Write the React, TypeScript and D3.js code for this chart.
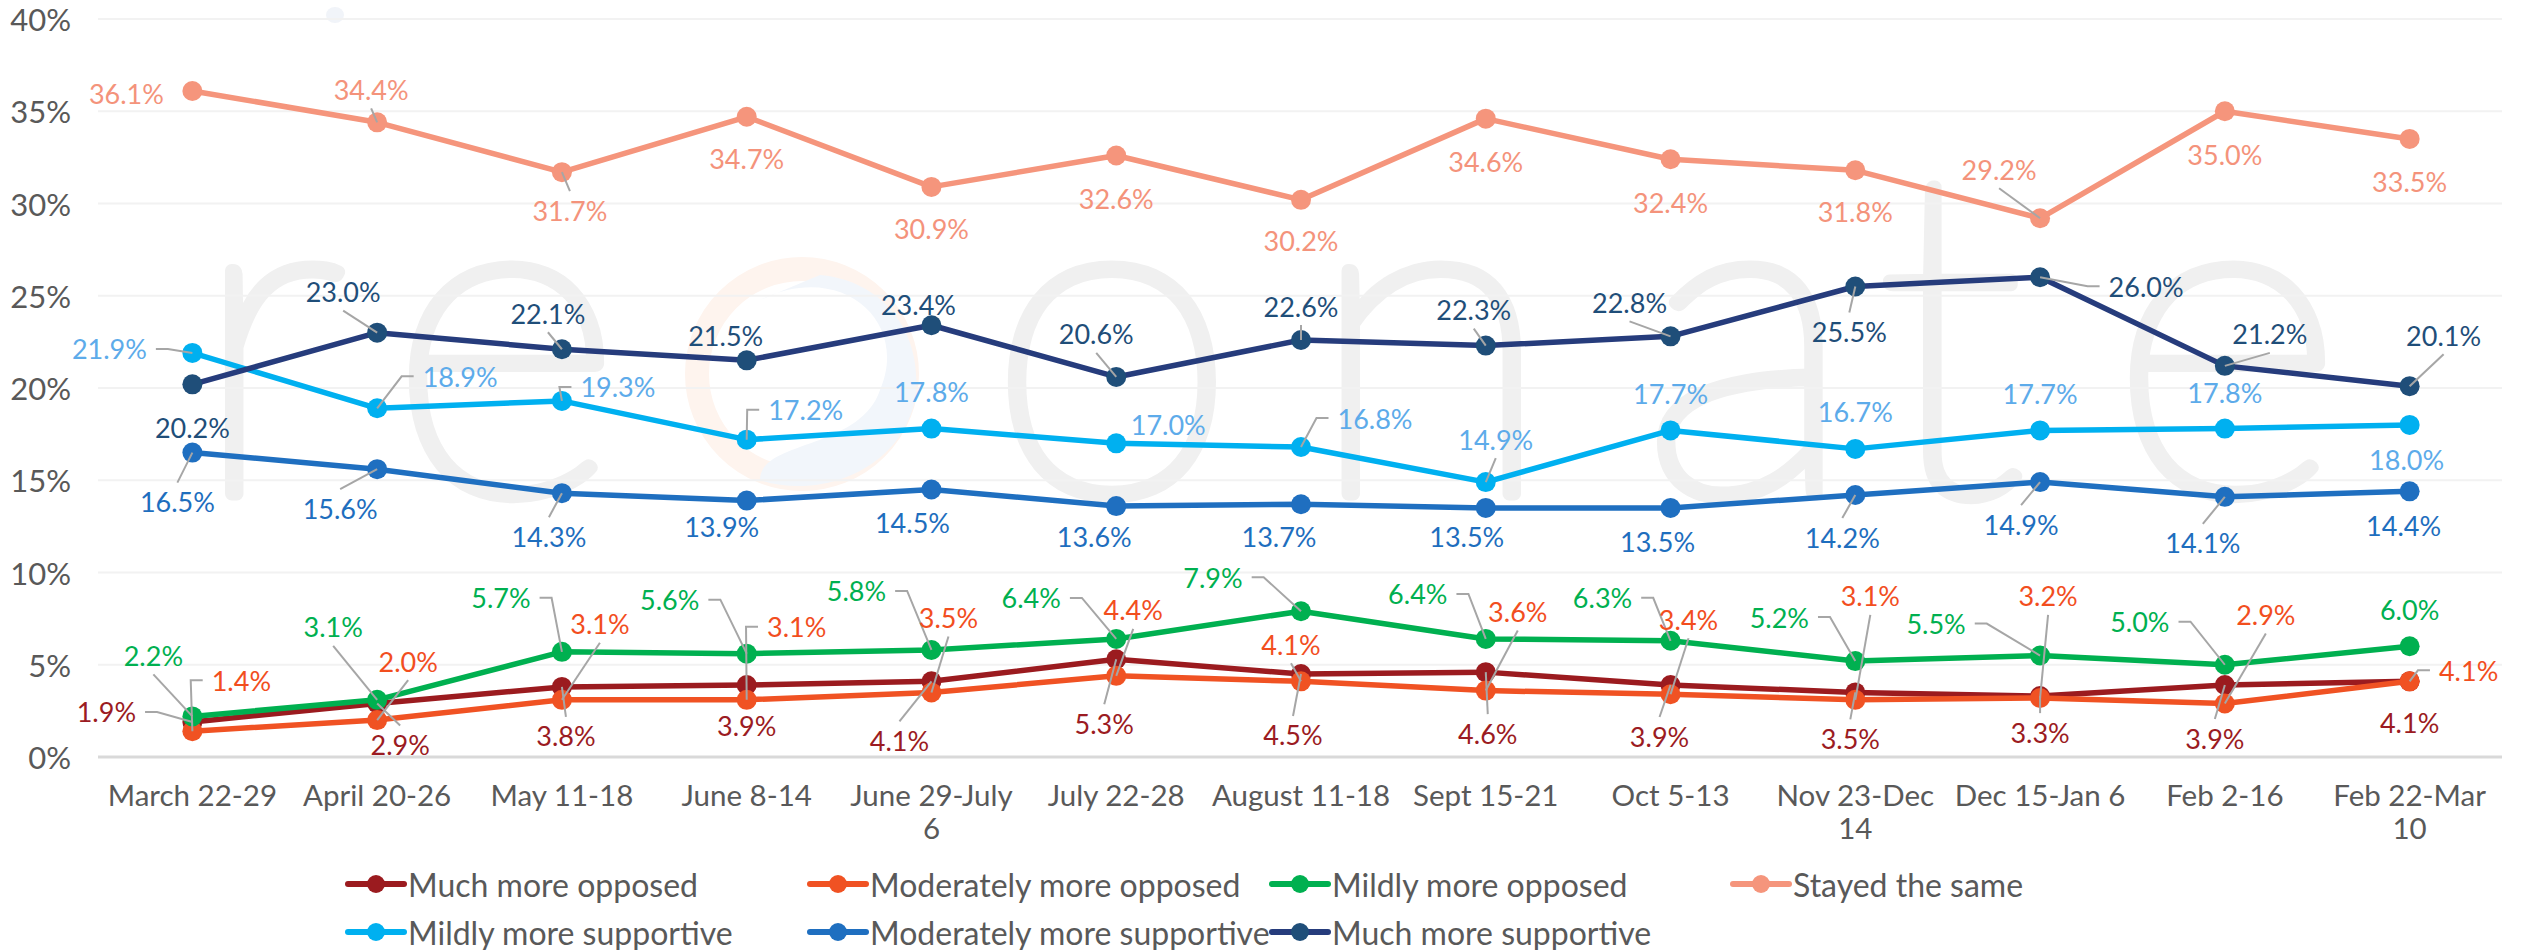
import React, { useEffect } from "react";
import * as d3 from "d3";

const categories = [
  "March 22-29", "April 20-26", "May 11-18", "June 8-14", "June 29-July 6", "July 22-28",
  "August 11-18", "Sept 15-21", "Oct 5-13", "Nov 23-Dec 14", "Dec 15-Jan 6", "Feb 2-16", "Feb 22-Mar 10",
];
const muchMoreOpposed = [1.9, 2.9, 3.8, 3.9, 4.1, 5.3, 4.5, 4.6, 3.9, 3.5, 3.3, 3.9, 4.1];
const moderatelyMoreOpposed = [1.4, 2.0, 3.1, 3.1, 3.5, 4.4, 4.1, 3.6, 3.4, 3.1, 3.2, 2.9, 4.1];
const mildlyMoreOpposed = [2.2, 3.1, 5.7, 5.6, 5.8, 6.4, 7.9, 6.4, 6.3, 5.2, 5.5, 5.0, 6.0];
const stayedTheSame = [36.1, 34.4, 31.7, 34.7, 30.9, 32.6, 30.2, 34.6, 32.4, 31.8, 29.2, 35.0, 33.5];
const mildlyMoreSupportive = [21.9, 18.9, 19.3, 17.2, 17.8, 17.0, 16.8, 14.9, 17.7, 16.7, 17.7, 17.8, 18.0];
const moderatelyMoreSupportive = [16.5, 15.6, 14.3, 13.9, 14.5, 13.6, 13.7, 13.5, 13.5, 14.2, 14.9, 14.1, 14.4];
const muchMoreSupportive = [20.2, 23.0, 22.1, 21.5, 23.4, 20.6, 22.6, 22.3, 22.8, 25.5, 26.0, 21.2, 20.1];
const seriesNames = [
  "Much more opposed", "Moderately more opposed", "Mildly more opposed", "Stayed the same",
  "Mildly more supportive", "Moderately more supportive", "Much more supportive",
];
const yTicks = [0, 5, 10, 15, 20, 25, 30, 35, 40];

// ---- styles / layout (not data) ----
const seriesValues = [
  muchMoreOpposed, moderatelyMoreOpposed, mildlyMoreOpposed, stayedTheSame,
  mildlyMoreSupportive, moderatelyMoreSupportive, muchMoreSupportive,
];
const lineColors = ["#9B1B1F", "#F05223", "#00B050", "#F5957C", "#00B0F0", "#1F6FC0", "#263C7C"];
const markerColors = ["#9B1B1F", "#F05223", "#00B050", "#F5957C", "#00B0F0", "#1F6FC0", "#1F4E79"];
const labelColors = ["#9B1B22", "#F24E1E", "#00B050", "#F4937B", "#5DABEA", "#1E6EBE", "#1F4E79"];

// label offsets [dx, dy, leader] ; leader 0 none, 1 top/bottom, 2 side
const labelLayout: number[][][] = [
  [[-86, -10, 2], [23, 41, 1], [4, 49, 1], [0, 40, 0], [-32, 59, 1], [-12, 64, 1], [-8, 61, 1], [2, 61, 1], [-11, 51, 1], [-5, 46, 1], [0, 36, 1], [-10, 53, 1], [0, 41, 0]],
  [[49, -51, 2], [31, -59, 1], [38, -76, 1], [50, -73, 2], [17, -75, 1], [17, -66, 1], [-10, -37, 1], [32, -79, 1], [18, -75, 1], [15, -104, 1], [8, -102, 1], [41, -89, 1], [59, -11, 2]],
  [[-39, -61, 1], [-44, -73, 1], [-61, -54, 2], [-77, -54, 2], [-75, -59, 2], [-85, -41, 2], [-88, -34, 2], [-68, -45, 2], [-68, -43, 2], [-76, -44, 2], [-104, -32, 2], [-85, -43, 2], [0, -37, 0]],
  [[-66, 3, 0], [-6, -33, 1], [8, 38, 1], [0, 42, 0], [0, 42, 0], [0, 43, 0], [0, 41, 0], [0, 43, 0], [0, 43, 0], [0, 41, 0], [-41, -49, 1], [0, 43, 0], [0, 43, 0]],
  [[-83, -4, 2], [83, -32, 2], [56, -14, 2], [59, -30, 2], [0, -37, 0], [52, -19, 0], [74, -29, 2], [10, -43, 1], [0, -37, 0], [0, -37, 0], [0, -37, 0], [0, -36, 0], [-3, 35, 0]],
  [[-15, 49, 1], [-37, 39, 1], [-13, 43, 1], [-25, 26, 0], [-19, 33, 0], [-22, 30, 0], [-22, 32, 0], [-19, 29, 0], [-13, 34, 0], [-13, 42, 1], [-19, 42, 1], [-22, 46, 1], [-6, 34, 0]],
  [[0, 43, 0], [-34, -41, 1], [-14, -36, 1], [-21, -25, 0], [-13, -21, 0], [-20, -43, 1], [0, -34, 1], [-12, -36, 1], [-41, -34, 1], [-6, 45, 1], [106, 9, 2], [45, -32, 1], [34, -51, 1]],
];

const W = 2532;
const H = 950;
const FONT = "Lato, 'Open Sans', sans-serif";
const LABEL_SIZE = 27;

let measureCtx: CanvasRenderingContext2D | null = null;
function textWidth(s: string, size: number): number {
  if (!measureCtx) measureCtx = document.createElement("canvas").getContext("2d");
  if (!measureCtx) return s.length * size * 0.55;
  measureCtx.font = `${size}px Lato`;
  return measureCtx.measureText(s).width;
}

function wrapLabel(s: string): string[] {
  if (s.length <= 12) return [s];
  const k = s.lastIndexOf(" ");
  return [s.slice(0, k), s.slice(k + 1)];
}

export default function App() {
  useEffect(() => {
    document.body.style.margin = "0";
  }, []);

  const x = d3.scalePoint<string>().domain(categories).range([100, 2502]).padding(0.5);
  const y = d3.scaleLinear().domain([0, 40]).range([757, 19]);
  const px = (i: number) => x(categories[i]) as number;

  const line = d3
    .line<number>()
    .x((_, i) => px(i))
    .y((d) => y(d));

  const fmt = (v: number) => `${v.toFixed(1)}%`;

  const leaders: JSX.Element[] = [];
  const labels: JSX.Element[] = [];
  seriesValues.forEach((vals, s) => {
    vals.forEach((v, i) => {
      const [dx, dy, lt] = labelLayout[s][i];
      const ptx = px(i);
      const pty = y(v);
      const cx = ptx + dx;
      const cy = pty + dy;
      const txt = fmt(v);
      labels.push(
        <text key={`l${s}-${i}`} x={cx} y={cy} textAnchor="middle" dominantBaseline="central"
          fontSize={LABEL_SIZE} fontFamily={FONT} fill={labelColors[s]}>{txt}</text>
      );
      if (lt === 1) {
        const sy = dy < 0 ? cy + 19 : cy - 19;
        leaders.push(<path key={`d${s}-${i}`} d={`M${cx},${sy}L${ptx},${pty}`} stroke="#A6A6A6" strokeWidth={2} fill="none" />);
      } else if (lt === 2) {
        const hw = textWidth(txt, LABEL_SIZE) / 2;
        const dir = dx < 0 ? 1 : -1;
        const sx = cx + dir * (hw + 9);
        const ex = sx + dir * 12;
        leaders.push(<path key={`d${s}-${i}`} d={`M${sx},${cy}L${ex},${cy}L${ptx},${pty}`} stroke="#A6A6A6" strokeWidth={2} fill="none" />);
      }
    });
  });

  const legendCols = [348, 810, 1272, 1733];
  const legendRows = [884, 932];

  const wm = "#F0F0F0";
  const wmLetters: [string, number][] = [["r", 268], ["e", 505], ["o", 1112], ["n", 1430], ["a", 1748], ["t", 1950], ["e", 2226]];

  return (
    <svg width={W} height={H} viewBox={`0 0 ${W} ${H}`} style={{ position: "absolute", left: 0, top: 0, background: "#fff" }}>
      <rect x={0} y={0} width={W} height={H} fill="#fff" />
      {/* watermark */}
      <g>
        <ellipse cx={335} cy={15} rx={9} ry={8} fill="#F1F4F9" />
        <circle cx={802} cy={374} r={105} fill="none" stroke="#FEF4EE" strokeWidth={24} />
        <path d="M 760 300 C 840 260, 910 320, 880 390 C 860 450, 760 440, 760 480 C 820 500, 900 470, 915 400 C 925 330, 880 280, 820 275 Z" fill="#F2F6FB" />
        {wmLetters.map(([ch, cx], k) => (
          <text key={`w${k}`} x={cx} y={494} textAnchor="middle" fontSize={456} fontWeight={100}
            fontFamily={FONT} fill={wm} stroke={wm} strokeWidth={13} strokeLinejoin="round">{ch}</text>
        ))}
      </g>
      {/* grid */}
      {yTicks.map((t) => (
        <g key={`g${t}`}>
          <line x1={98} x2={2502} y1={y(t)} y2={y(t)} stroke={t === 0 ? "#D9D9D9" : "#F2F2F2"} strokeWidth={t === 0 ? 3 : 2} />
          <text x={71} y={y(t)} textAnchor="end" dominantBaseline="central" fontSize={31} fontFamily={FONT} fill="#595959">{`${t}%`}</text>
        </g>
      ))}
      {/* x labels */}
      {categories.map((c, i) => (
        <text key={`x${i}`} x={px(i)} y={806} textAnchor="middle" fontSize={29.5} fontFamily={FONT} fill="#595959">
          {wrapLabel(c).map((ln, k) => (
            <tspan key={k} x={px(i)} dy={k === 0 ? 0 : 33}>{ln}</tspan>
          ))}
        </text>
      ))}
      {/* series */}
      {seriesValues.map((vals, s) => (
        <g key={`s${s}`}>
          <path d={line(vals) || ""} fill="none" stroke={lineColors[s]} strokeWidth={5.5} strokeLinejoin="round" />
          {vals.map((v, i) => (
            <circle key={i} cx={px(i)} cy={y(v)} r={10} fill={markerColors[s]} />
          ))}
        </g>
      ))}
      {leaders}
      {labels}
      {/* legend */}
      {seriesNames.map((n, k) => {
        const col = k < 4 ? k : k - 4;
        const row = k < 4 ? 0 : 1;
        const lx = legendCols[col];
        const ly = legendRows[row];
        return (
          <g key={`lg${k}`}>
            <line x1={lx} x2={lx + 56} y1={ly} y2={ly} stroke={lineColors[k]} strokeWidth={6} strokeLinecap="round" />
            <circle cx={lx + 28} cy={ly} r={9} fill={markerColors[k]} />
            <text x={lx + 60} y={ly} dominantBaseline="central" fontSize={32} fontFamily={FONT} fill="#595959">{n}</text>
          </g>
        );
      })}
    </svg>
  );
}
